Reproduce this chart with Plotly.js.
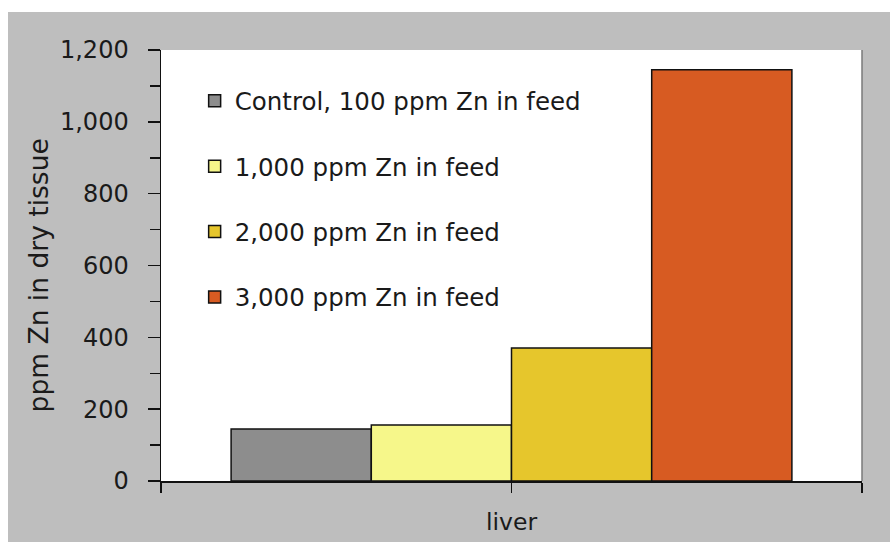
<!DOCTYPE html>
<html>
<head>
<meta charset="utf-8">
<script src="https://cdn.plot.ly/plotly-3.0.1.min.js"></script>
<style>
html,body{margin:0;padding:0;background:#ffffff;}
#chart{position:absolute;left:8px;top:12px;width:882px;height:530px;}
</style>
</head>
<body>
<div id="chart"></div>
<script>
const categories = ['liver'];
const seriesNames = ['Control, 100 ppm Zn in feed', '1,000 ppm Zn in feed', '2,000 ppm Zn in feed', '3,000 ppm Zn in feed'];
const controlValues = [145];
const feed1000Values = [156];
const feed2000Values = [370];
const feed3000Values = [1145];
const seriesValues = [controlValues, feed1000Values, feed2000Values, feed3000Values];
const seriesColors = ['#8d8d8d', '#f6f78a', '#e6c62c', '#d75b22'];
const yTickValues = [0, 200, 400, 600, 800, 1000, 1200];
const yTitle = 'ppm Zn in dry tissue';

const FONT = 'DejaVu Sans, Verdana, sans-serif';
const TXT = '#1a1a1a';
const xIdx = categories.map((c, i) => i);

const traces = seriesNames.map((name, k) => ({
  type: 'bar',
  name: name,
  x: xIdx,
  y: seriesValues[k],
  legendgroup: 'g' + k,
  marker: {color: seriesColors[k], line: {color: '#111111', width: 1.5}},
  hoverinfo: 'skip'
}));

const xTickVals = [];
const xTickText = [];
categories.forEach((c, i) => {
  xTickVals.push(i - 0.5, i);
  xTickText.push('', c);
});
xTickVals.push(categories.length - 0.5);
xTickText.push('');

const layout = {
  width: 882, height: 530,
  paper_bgcolor: '#bebebe',
  plot_bgcolor: '#ffffff',
  margin: {l: 153, r: 28, t: 38, b: 61},
  barmode: 'group',
  bargap: 0.2,
  bargroupgap: 0,
  showlegend: true,
  font: {family: FONT, size: 24, color: TXT},
  legend: {
    x: 0.048, y: 0.934, xanchor: 'left', yanchor: 'top',
    bgcolor: 'rgba(0,0,0,0)',
    font: {family: FONT, size: 24.5, color: TXT},
    tracegroupgap: 30.5,
    traceorder: 'grouped'
  },
  xaxis: {
    type: 'linear',
    range: [-0.5, categories.length - 0.5],
    tickmode: 'array',
    tickvals: xTickVals,
    ticktext: xTickText,
    ticks: 'outside', ticklen: 10, tickwidth: 1.5, tickcolor: '#111111',
    showline: true, linecolor: '#111111', linewidth: 1.5,
    showgrid: false, zeroline: false,
    ticklabelstandoff: 9,
    tickfont: {family: FONT, size: 23.5, color: TXT},
    fixedrange: true
  },
  yaxis: {
    range: [0, 1200],
    tickmode: 'array',
    tickvals: yTickValues,
    tickformat: ',d',
    ticks: 'outside', ticklen: 12, tickwidth: 1.5, tickcolor: '#111111',
    minor: {dtick: 100, ticks: 'outside', ticklen: 10, tickwidth: 1.5, tickcolor: '#111111', showgrid: false},
    showline: true, linecolor: '#111111', linewidth: 1.5,
    showgrid: false, zeroline: false,
    ticklabelstandoff: 14,
    tickfont: {family: FONT, size: 24, color: TXT},
    fixedrange: true
  },
  annotations: [
    {text: yTitle, xref: 'paper', yref: 'paper', x: -0.1755, y: 0.477,
     xanchor: 'center', yanchor: 'middle', textangle: -90, showarrow: false,
     font: {family: FONT, size: 26.5, color: TXT}}
  ],
  shapes: [
    {type: 'line', xref: 'paper', yref: 'paper', x0: 1, x1: 1, y0: 0, y1: 1,
     line: {color: '#7a7a7a', width: 1.5}}
  ]
};

Plotly.newPlot('chart', traces, layout, {displayModeBar: false, staticPlot: true});
</script>
</body>
</html>
